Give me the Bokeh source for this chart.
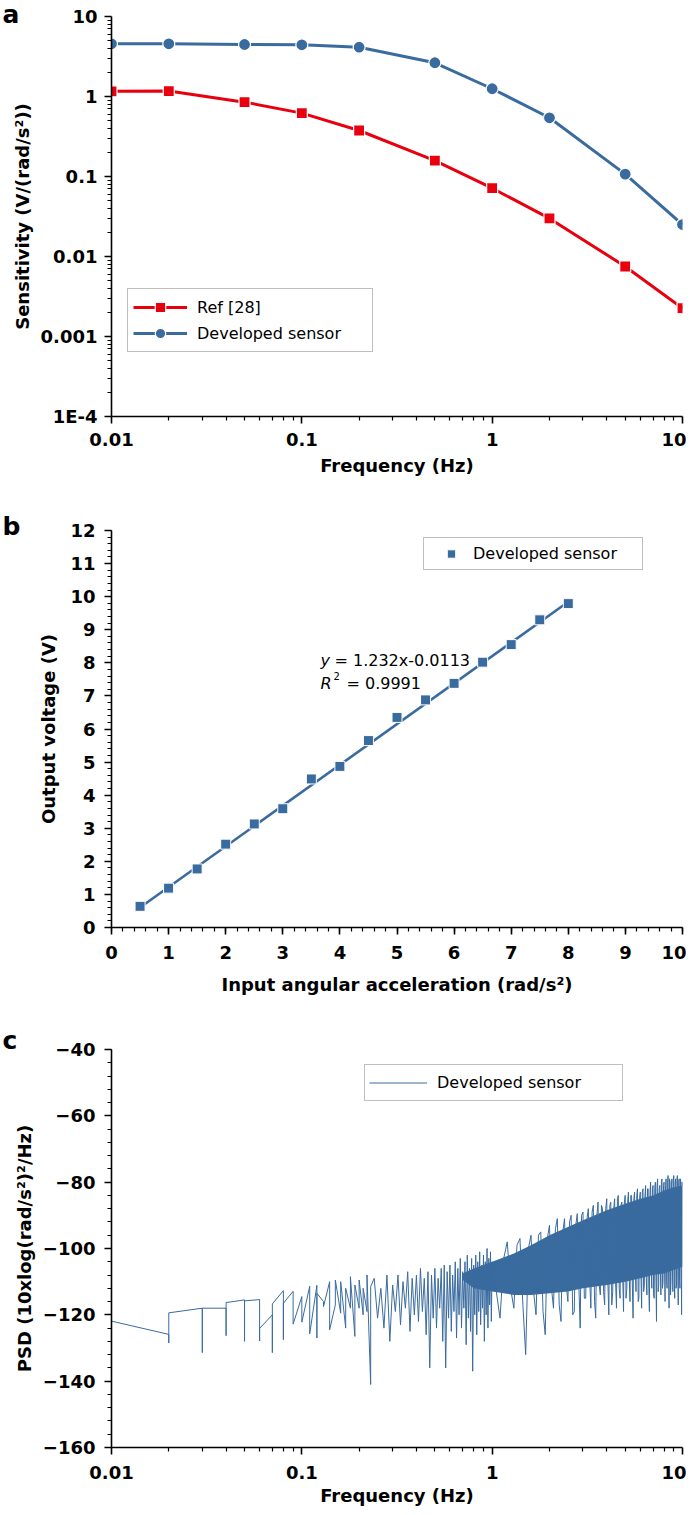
import numpy as np
from bokeh.plotting import figure
from bokeh.layouts import column
from bokeh.models import FixedTicker, Label, Legend, LegendItem, Range1d, Title
from bokeh.embed import file_html
from bokeh.resources import INLINE

# ---------------- data ----------------
# (a) sensitivity vs frequency
freq_a = [0.01, 0.02, 0.05, 0.1, 0.2, 0.5, 1, 2, 5, 10]
sens_ref28 = [1.16, 1.17, 0.85, 0.62, 0.376, 0.158, 0.0714, 0.0299, 0.0075, 0.00226]
sens_dev = [4.56, 4.56, 4.47, 4.43, 4.13, 2.64, 1.25, 0.542, 0.107, 0.0251]

# (b) output voltage vs input angular acceleration
acc_b = [0.5, 1, 1.5, 2, 2.5, 3, 3.5, 4, 4.5, 5, 5.5, 6, 6.5, 7, 7.5, 8]
volt_b = [0.64, 1.19, 1.77, 2.52, 3.13, 3.59, 4.49, 4.87, 5.65, 6.35, 6.88, 7.38, 8.02, 8.55, 9.30, 9.79]
fit_slope = 1.232
fit_intercept = -0.0113
fit_r2 = 0.9991
fit_x = [0.5, 8.0]

# (c) PSD of the developed sensor
psd_f_sparse = [0.01, 0.02, 0.02, 0.02, 0.03, 0.03, 0.03, 0.04, 0.04, 0.04, 0.05, 0.05, 0.05,
                0.06, 0.06, 0.06, 0.07, 0.07, 0.07, 0.08, 0.08, 0.08, 0.09, 0.09, 0.10, 0.10,
                0.11, 0.11, 0.12, 0.12, 0.12, 0.13, 0.13, 0.14, 0.14, 0.15, 0.15, 0.16, 0.16,
                0.17, 0.17, 0.18, 0.18, 0.19, 0.19, 0.20, 0.20, 0.21, 0.21, 0.22, 0.22, 0.23, 0.23]
psd_db_sparse = [-121.9, -125.9, -128.5, -119.4, -118.0, -131.4, -118.0, -118.0, -126.3, -116.3,
                 -115.5, -128.0, -115.8, -115.4, -127.9, -124.1, -120.0, -131.4, -116.7, -112.7,
                 -127.5, -116.5, -112.9, -122.8, -114.5, -122.2, -111.4, -125.7, -111.1, -127.0,
                 -113.5, -116.0, -117.5, -110.0, -124.5, -117.0, -109.5, -119.5, -110.0, -124.0,
                 -112.0, -118.0, -108.5, -126.5, -111.0, -118.0, -109.5, -120.0, -112.0, -119.0,
                 -108.0, -141.0, -111.5]
# 0.24 ... 1.00 Hz, 0.01 Hz steps
psd_db_mid = [-109, -121, -112, -124, -108, -128, -111, -119, -108, -123, -110, -118, -107, -125,
              -109, -120, -108, -122, -106, -119, -109, -126, -107, -136, -108, -121, -106, -124,
              -109, -118, -106, -128, -105, -136, -107, -121, -105, -125, -108, -119, -104, -127,
              -106, -120, -103, -124, -107, -118, -104, -129, -102, -121, -106, -125, -103, -137,
              -105, -120, -102, -126, -104, -119, -101, -123, -105, -118, -102, -128, -104, -120,
              -100, -124, -103, -117, -101, -122, -104]
# 1.1 ... 10.0 Hz, 0.1 Hz steps
psd_db_high = [-121, -98, -118, -97, -132, -96, -120, -95, -126, -93,
               -118, -91, -122, -91, -116, -90, -119, -89.5, -124, -89,
               -115, -88, -118, -87, -121, -86, -114, -88, -117, -85,
               -120, -86, -113, -85, -118, -84, -115, -86, -119, -84,
               -112, -83, -116, -84, -121, -83, -113, -82, -115, -83,
               -118, -82, -111, -81, -114, -82, -119, -80, -112, -81,
               -115, -80, -122, -79, -111, -81, -114, -79, -110, -80,
               -116, -79, -112, -78, -118, -80, -110, -79, -113, -78,
               -115, -79, -111, -78, -117, -79, -112, -80, -120, -81]
# 1.15 ... 9.95 Hz, 0.1 Hz steps (interleaved with the list above)
psd_db_high2 = [-103, -112, -99, -117, -100, -113, -96, -119, -97, -112,
                -94, -117, -95, -111, -92, -120, -93, -110, -90, -115,
                -91, -109, -89, -116, -90, -111, -87, -113, -88, -109,
                -87, -117, -88, -110, -85, -112, -87, -108, -86, -115,
                -86, -109, -84, -111, -85, -107, -84, -116, -85, -108,
                -83, -113, -84, -109, -82, -111, -83, -107, -82, -114,
                -82, -108, -81, -113, -82, -107, -80, -112, -81, -106,
                -81, -110, -80, -108, -79, -114, -81, -106, -80, -109,
                -80, -112, -79, -107, -80, -110, -79, -106, -80]
# dense core of the noise band
band_f = [0.7, 0.8, 1.0, 1.3, 1.6, 2.0, 2.5, 3.0, 4.0, 5.0, 6.0, 7.0, 8.0, 9.0, 10.0]
band_top = [-107.5, -106, -104, -101.5, -99, -96, -93.5, -91.5, -88.5, -86.5, -85, -84, -82.5, -81.5, -81]
band_bot = [-109.5, -112, -113, -114, -114, -113.5, -113, -112, -111, -110, -109, -108, -107.5, -106.5, -105.5]

# tick labels
log_x_ticks = [0.01, 0.1, 1, 10]
log_x_labels = ["0.01", "0.1", "1", "10"]
a_y_ticks = [1e-4, 1e-3, 1e-2, 0.1, 1, 10]
a_y_labels = ["1E-4", "0.001", "0.01", "0.1", "1", "10"]
c_y_ticks = [-160, -140, -120, -100, -80, -60, -40]
c_y_labels = ["\u2212160", "\u2212140", "\u2212120", "\u2212100", "\u221280", "\u221260", "\u221240"]

psd_f_mid = list(np.round(np.arange(0.24, 1.0001, 0.01), 2))
psd_f_high = list(np.round(np.arange(1.1, 10.0001, 0.1), 2))
psd_f_high2 = list(np.round(np.arange(1.15, 9.9501, 0.1), 2))
high_pairs = sorted(zip(psd_f_high + psd_f_high2, psd_db_high + psd_db_high2))
psd_f = psd_f_sparse + psd_f_mid + [f for f, _ in high_pairs]
psd_db = psd_db_sparse + psd_db_mid + [v for _, v in high_pairs]

# ---------------- style ----------------
FONT = "DejaVu Sans"
BLUE = "#3a6b9f"
RED = "#e8000f"
FIG_W = 686
LEFT = 111


def style(p, xstand=(8, 6), ystand=(8, 6)):
    p.outline_line_color = None
    p.grid.visible = False
    for ax in p.axis:
        ax.axis_line_width = 1.6
        ax.axis_line_color = "black"
        ax.major_tick_line_width = 1.6
        ax.major_tick_in = 0
        ax.major_tick_out = 7
        ax.minor_tick_in = 0
        ax.minor_tick_out = 4
        ax.minor_tick_line_width = 1.2
        ax.major_label_text_font = FONT
        ax.major_label_text_font_style = "bold"
        ax.major_label_text_font_size = "18px"
        ax.major_label_text_color = "black"
        ax.axis_label_text_font = FONT
        ax.axis_label_text_font_style = "bold"
        ax.axis_label_text_font_size = "18px"
        ax.axis_label_text_color = "black"
    p.xaxis.major_label_standoff = xstand[0]
    p.xaxis.axis_label_standoff = xstand[1]
    p.yaxis.major_label_standoff = ystand[0]
    p.yaxis.axis_label_standoff = ystand[1]


def letter(p, txt, standoff):
    p.add_layout(Title(text=txt, align="left", offset=-(LEFT - 2), standoff=standoff,
                       vertical_align="middle", text_font=FONT, text_font_style="bold",
                       text_font_size="25px", text_color="black"), "above")


def minor_log(decades):
    return [d * m for d in decades for m in range(2, 10)]


legend_text = dict(label_text_font=FONT, label_text_font_size="16px", label_text_color="black",
                   border_line_color="#7f7f7f", border_line_width=1.5, margin=0)

# ---------------- (a) ----------------
pa = figure(width=FIG_W, height=493, min_border_left=LEFT, min_border_right=4,
            min_border_top=16, min_border_bottom=77,
            x_axis_type="log", y_axis_type="log",
            x_range=Range1d(0.01, 10), y_range=Range1d(1e-4, 10),
            output_backend="svg", toolbar_location=None)
la_r = pa.line(freq_a, sens_ref28, line_color=RED, line_width=3)
sa_r = pa.scatter(freq_a, sens_ref28, marker="square", size=11, fill_color=RED,
                  line_color="white", line_width=1.2)
la_b = pa.line(freq_a, sens_dev, line_color=BLUE, line_width=3)
sa_b = pa.scatter(freq_a, sens_dev, marker="circle", size=12, fill_color=BLUE,
                  line_color="white", line_width=1.2)
pa.xaxis.ticker = FixedTicker(ticks=log_x_ticks, minor_ticks=minor_log([0.01, 0.1, 1]))
pa.xaxis.major_label_overrides = dict(zip(log_x_ticks, log_x_labels))
pa.yaxis.ticker = FixedTicker(ticks=a_y_ticks, minor_ticks=minor_log([1e-4, 1e-3, 1e-2, 0.1, 1]))
pa.yaxis.major_label_overrides = dict(zip(a_y_ticks, a_y_labels))
pa.xaxis.axis_label = "Frequency (Hz)"
pa.yaxis.axis_label = "Sensitivity (V/(rad/s\u00b2))"
style(pa, xstand=(9, 6), ystand=(7, 5))
leg_a = Legend(items=[LegendItem(label="Ref [28]", renderers=[la_r, sa_r]),
                      LegendItem(label="Developed sensor", renderers=[la_b, sa_b])],
               location=(16, 64), padding=5, spacing=0,
               glyph_width=54, glyph_height=26, label_height=26, label_width=170,
               label_standoff=10, **legend_text)
pa.add_layout(leg_a)
letter(pa, "a", -26)

# ---------------- (b) ----------------
pb = figure(width=FIG_W, height=512, min_border_left=LEFT, min_border_right=4,
            min_border_top=37, min_border_bottom=78,
            x_range=Range1d(0, 10), y_range=Range1d(0, 12),
            output_backend="svg", toolbar_location=None)
fit_y = [fit_slope * xv + fit_intercept for xv in fit_x]
pb.line(fit_x, fit_y, line_color=BLUE, line_width=2.6)
sb = pb.scatter(acc_b, volt_b, marker="square", size=10, fill_color=BLUE,
                line_color="white", line_width=1)
pb.xaxis.ticker = FixedTicker(ticks=list(range(0, 11)),
                              minor_ticks=list(np.round(np.arange(0, 10.001, 0.2), 1)))
pb.yaxis.ticker = FixedTicker(ticks=list(range(0, 13)),
                              minor_ticks=list(np.round(np.arange(0, 12.001, 0.2), 1)))
pb.xaxis.axis_label = "Input angular acceleration (rad/s\u00b2)"
pb.yaxis.axis_label = "Output voltage (V)"
style(pb, xstand=(11, 12), ystand=(9, 8))
leg_b = Legend(items=[LegendItem(label="Developed sensor", renderers=[sb])],
               location=(312, 357), padding=5, glyph_width=44, glyph_height=21,
               label_height=21, label_width=164, label_standoff=-7, **legend_text)
pb.add_layout(leg_b)
eq_x, eq_y1, eq_y2 = 3.66, 8.08, 7.38
common = dict(text_font=FONT, text_font_size="16px", text_baseline="alphabetic",
              text_align="left", text_color="black")
pb.add_layout(Label(x=eq_x, y=eq_y1, text="y", text_font_style="italic", **common))
pb.add_layout(Label(x=eq_x, y=eq_y1, x_offset=14,
                    text=f"= {fit_slope}x{fit_intercept}", **common))
pb.add_layout(Label(x=eq_x, y=eq_y2, text="R", text_font_style="italic", **common))
pb.add_layout(Label(x=eq_x, y=eq_y2, x_offset=13, y_offset=7, text="2",
                    text_font=FONT, text_font_size="10px", text_baseline="alphabetic",
                    text_align="left", text_color="black"))
pb.add_layout(Label(x=eq_x, y=eq_y2, x_offset=26, text=f"= {fit_r2}", **common))
letter(pb, "b", -22)

# ---------------- (c) ----------------
pc = figure(width=FIG_W, height=506, min_border_left=LEFT, min_border_right=4,
            min_border_top=44, min_border_bottom=64,
            x_axis_type="log", x_range=Range1d(0.01, 10), y_range=Range1d(-160, -40),
            output_backend="svg", toolbar_location=None)
pc.varea(x=band_f, y1=band_bot, y2=band_top, fill_color=BLUE, fill_alpha=1)
lc = pc.line(psd_f, psd_db, line_color=BLUE, line_width=1)
pc.xaxis.ticker = FixedTicker(ticks=log_x_ticks, minor_ticks=minor_log([0.01, 0.1, 1]))
pc.xaxis.major_label_overrides = dict(zip(log_x_ticks, log_x_labels))
pc.yaxis.ticker = FixedTicker(ticks=c_y_ticks, minor_ticks=list(range(-160, -39, 4)))
pc.yaxis.major_label_overrides = dict(zip(c_y_ticks, c_y_labels))
pc.xaxis.axis_label = "Frequency (Hz)"
pc.yaxis.axis_label = "PSD (10xlog(rad/s\u00b2)\u00b2/Hz)"
style(pc, xstand=(11, 3), ystand=(9, 5))
leg_c = Legend(items=[LegendItem(label="Developed sensor", renderers=[lc])],
               location=(253, 346), padding=4, glyph_width=58, glyph_height=27,
               label_height=27, label_width=181, label_standoff=10, **legend_text)
pc.add_layout(leg_c)
letter(pc, "c", -12)

layout = column(pa, pb, pc, spacing=0)
open("out.html", "w").write(file_html(layout, INLINE))
